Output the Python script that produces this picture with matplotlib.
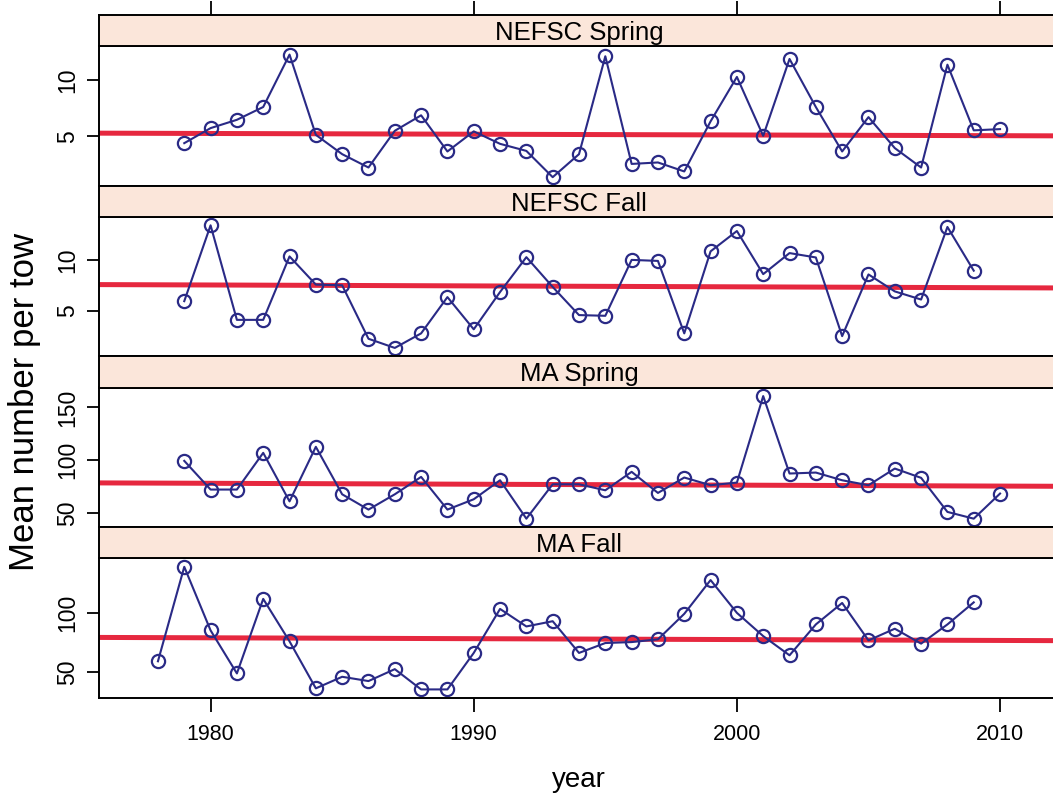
import matplotlib.pyplot as plt

plt.rcParams['font.family'] = ['Liberation Sans', 'DejaVu Sans']

# panel titles and series
panel_titles = ["NEFSC Spring", "NEFSC Fall", "MA Spring", "MA Fall"]

years_nefsc_spring = list(range(1979, 2011))
nefsc_spring = [4.40, 5.74, 6.48, 7.62, 12.29, 5.14, 3.42, 2.23, 5.50, 6.88,
                3.66, 5.45, 4.34, 3.71, 1.37, 3.42, 12.14, 2.55, 2.68, 1.88,
                6.34, 10.30, 5.05, 11.90, 7.62, 3.66, 6.72, 3.96, 2.23, 11.39,
                5.54, 5.65]

years_nefsc_fall = list(range(1979, 2010))
nefsc_fall = [5.94, 13.40, 4.10, 4.10, 10.34, 7.57, 7.50, 2.24, 1.34, 2.77,
              6.34, 3.17, 6.84, 10.27, 7.34, 4.57, 4.50, 10.00, 9.90, 2.77,
              10.84, 12.84, 8.60, 10.67, 10.24, 2.50, 8.57, 6.90, 6.10, 13.24,
              8.94]

years_ma_spring = list(range(1979, 2011))
ma_spring = [99.4, 72.2, 72.2, 107.0, 61.0, 112.7, 67.7, 53.2, 67.7, 84.2,
             53.2, 63.0, 81.0, 44.6, 77.2, 77.2, 71.5, 89.0, 69.0, 83.6,
             76.3, 78.8, 160.8, 87.4, 88.3, 81.0, 76.3, 92.1, 83.3, 51.0,
             44.6, 68.4]

years_ma_fall = list(range(1978, 2010))
ma_fall = [59.4, 138.6, 85.3, 49.2, 111.7, 76.1, 36.7, 46.4, 42.8, 52.8,
           35.8, 35.8, 66.4, 103.3, 88.6, 93.0, 66.4, 74.7, 75.5, 77.8,
           99.2, 127.5, 100.0, 80.5, 64.4, 90.3, 108.3, 76.9, 86.7, 74.2,
           90.3, 108.8]

# red reference line: value at left and right edge of each panel
trend_left = [5.29, 7.57, 78.5, 79.4]
trend_right = [5.05, 7.24, 75.3, 76.7]

ytick_values = [[5, 10], [5, 10], [50, 100, 150], [50, 100]]
xtick_values = [1980, 1990, 2000, 2010]

series = [(years_nefsc_spring, nefsc_spring),
          (years_nefsc_fall, nefsc_fall),
          (years_ma_spring, ma_spring),
          (years_ma_fall, ma_fall)]

navy = "#2a2a86"
red = "#e6283f"
strip_col = "#fbe6da"

W, H = 1053, 799
fig = plt.figure(figsize=(W / 100, H / 100), dpi=100)

all_years = [y for yrs, _ in series for y in yrs]
x0, x1 = min(all_years), max(all_years)
xpad = 0.07 * (x1 - x0)
xlim = (x0 - xpad, x1 + xpad)

left, right = 99, 1059
top = 15
block = 170.75
strip_h = 31

for i, (title, (yrs, vals)) in enumerate(zip(panel_titles, series)):
    s_top = top + i * block
    s_bot = s_top + strip_h
    p_bot = s_top + block

    ax = fig.add_axes([left / W, 1 - p_bot / H, (right - left) / W, (p_bot - s_bot) / H])
    sax = fig.add_axes([left / W, 1 - s_bot / H, (right - left) / W, strip_h / H])

    ax.plot(xlim, [trend_left[i], trend_right[i]], color=red, lw=3.6, zorder=1)
    ax.plot(yrs, vals, '-o', color=navy, lw=1.5, ms=9.5, mfc='none',
            mec=navy, mew=1.6, zorder=2)

    lo, hi = min(vals), max(vals)
    ypad = 0.07 * (hi - lo)
    ax.set_ylim(lo - ypad, hi + ypad)
    ax.set_xlim(xlim)

    ax.set_yticks(ytick_values[i])
    ax.tick_params(axis='y', direction='out', length=9, width=1.3,
                   labelsize=16.5, pad=5, labelrotation=90)
    for lbl in ax.get_yticklabels():
        lbl.set_va('center')

    if i == len(panel_titles) - 1:
        ax.set_xticks(xtick_values)
        ax.tick_params(axis='x', direction='out', length=10, width=1.3,
                       labelsize=15.5, pad=9)
    else:
        ax.set_xticks([])

    for sp in ax.spines.values():
        sp.set_linewidth(1.4)

    sax.set_facecolor(strip_col)
    sax.set_xlim(xlim)
    sax.set_yticks([])
    if i == 0:
        sax.set_xticks(xtick_values)
        sax.tick_params(axis='x', direction='out', length=10, width=1.3,
                        top=True, bottom=False, labeltop=False, labelbottom=False)
    else:
        sax.set_xticks([])
    for sp in sax.spines.values():
        sp.set_linewidth(1.4)
    sax.text(0.5, 0.42, title, transform=sax.transAxes, ha='center',
             va='center', fontsize=18.5)

fig.text(25 / W, 1 - 402 / H, "Mean number per tow", rotation=90,
         ha='center', va='center', fontsize=25)
fig.text(579 / W, 1 - 780 / H, "year", ha='center', va='center', fontsize=20)

fig.savefig("out.png", dpi=100)
